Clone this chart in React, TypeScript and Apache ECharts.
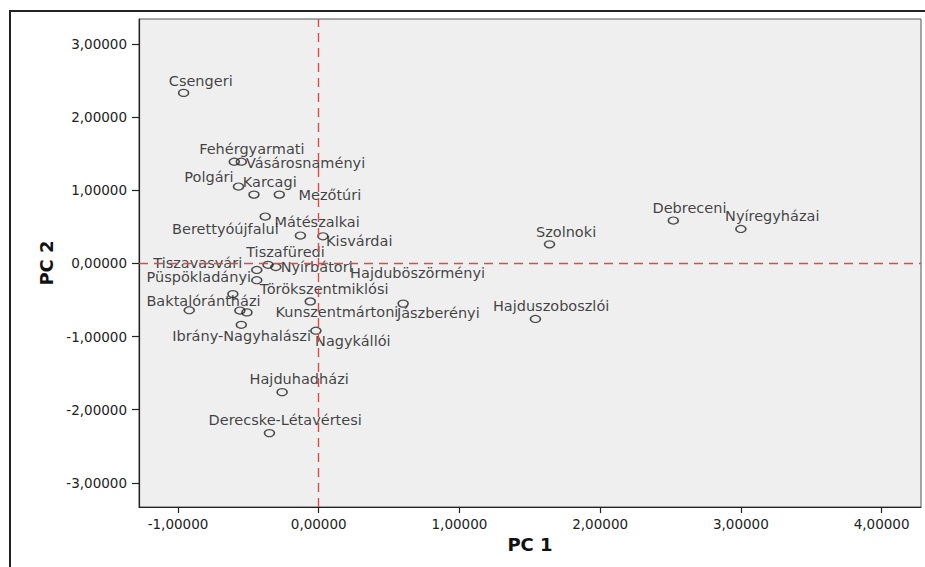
import React, { useEffect, useRef } from "react";
import * as echarts from "echarts";

// ---- data ----
const names = [
  "Csengeri", "Fehérgyarmati", "Vásárosnaményi", "Polgári", "Karcagi", "Mezőtúri",
  "Berettyóújfalui", "Mátészalkai", "Kisvárdai", "Tiszafüredi", "Nyírbátori",
  "Tiszavasvári", "Püspökladányi", "", "Baktalórántházi", "Törökszentmiklósi",
  "Kunszentmártoni", "Hajduböszörményi", "Ibrány-Nagyhalászi", "Nagykállói",
  "Jászberényi", "Hajduhadházi", "Derecske-Létavértesi", "Szolnoki", "Debreceni",
  "Nyíregyházai", "Hajduszoboszlói",
];
const pc1 = [
  -0.96, -0.60, -0.55, -0.57, -0.46, -0.28,
  -0.38, -0.13, 0.03, -0.36, -0.305,
  -0.44, -0.44, -0.61, -0.92, -0.56,
  -0.51, -0.06, -0.55, -0.02,
  0.60, -0.26, -0.35, 1.64, 2.52,
  3.00, 1.54,
];
const pc2 = [
  2.33, 1.39, 1.39, 1.05, 0.94, 0.94,
  0.64, 0.38, 0.37, -0.02, -0.05,
  -0.09, -0.23, -0.42, -0.64, -0.645,
  -0.67, -0.52, -0.84, -0.92,
  -0.55, -1.76, -2.32, 0.26, 0.585,
  0.47, -0.76,
];
const xTicks = [-1, 0, 1, 2, 3, 4];
const yTicks = [-3, -2, -1, 0, 1, 2, 3];

// ---- label placement (styling): offset of label's left/middle from the point, px ----
const labelOffsets: Record<string, [number, number]> = {
  "Csengeri": [-14, -11.6],
  "Fehérgyarmati": [-34.3, -12.4],
  "Vásárosnaményi": [5.6, 1.6],
  "Polgári": [-53.3, -9.4],
  "Karcagi": [-10.3, -12.3],
  "Mezőtúri": [20, 1],
  "Berettyóújfalui": [-92.3, 12.6],
  "Mátészalkai": [-25, -12.7],
  "Kisvárdai": [4, 5],
  "Tiszafüredi": [-21, -12.7],
  "Nyírbátori": [5.7, 1],
  "Tiszavasvári": [-102.7, -6.7],
  "Püspökladányi": [-109.4, -2.7],
  "Baktalórántházi": [-42, -9],
  "Törökszentmiklósi": [20.7, -20.7],
  "Kunszentmártoni": [29.4, 0],
  "Hajduböszörményi": [40.7, -27.7],
  "Ibrány-Nagyhalászi": [-68.3, 11.7],
  "Nagykállói": [0, 11],
  "Jászberényi": [-5.4, 10],
  "Hajduhadházi": [-31.7, -13],
  "Derecske-Létavértesi": [-60, -13],
  "Szolnoki": [-12.7, -12],
  "Debreceni": [-20, -12.4],
  "Nyíregyházai": [-15, -12.6],
  "Hajduszoboszlói": [-41.7, -12.6],
};

const FONT = "DejaVu Sans";
const SYM_W = 10;
const SYM_H = 7;
const fmt = (v: number) => v.toFixed(5).replace(".", ",");

export default function App() {
  const ref = useRef<HTMLDivElement>(null);
  useEffect(() => {
    if (!ref.current) return;
    const chart = echarts.init(ref.current, undefined, { renderer: "svg" });
    const data = names.map((n, i) => {
      const off = labelOffsets[n] || [6, 0];
      return {
        name: n,
        value: [pc1[i], pc2[i]],
        label: {
          show: n !== "",
          position: [SYM_W / 2 + off[0], SYM_H / 2 + off[1]],
          align: "left",
          verticalAlign: "middle",
        },
      };
    });
    chart.setOption({
      animation: false,
      backgroundColor: "#ffffff",
      grid: {
        left: 139,
        right: 4,
        top: 19,
        bottom: 60,
        show: true,
        backgroundColor: "#efefef",
        borderColor: "#555",
        borderWidth: 1,
        containLabel: false,
        outerBoundsMode: "none",
      },
      graphic: [
        {
          type: "rect",
          shape: { x: 10, y: 11, width: 940, height: 600 },
          style: { fill: "none", stroke: "#222", lineWidth: 2 },
          silent: true,
          z: -10,
        },
      ],
      xAxis: {
        type: "value",
        min: -1.277,
        max: 4.28,
        name: "PC 1",
        nameLocation: "middle",
        nameGap: 28,
        nameTextStyle: { fontFamily: FONT, fontSize: 18, fontWeight: "bold", color: "#111" },
        axisLine: { show: true, onZero: false, lineStyle: { color: "#222", width: 1.2 } },
        axisTick: { show: true, customValues: xTicks, length: 6, lineStyle: { color: "#222", width: 1.2 } },
        axisLabel: {
          customValues: xTicks,
          formatter: (v: number) => fmt(v),
          fontFamily: FONT,
          fontSize: 13.5,
          color: "#222",
          margin: 10,
        },
        splitLine: { show: false },
      },
      yAxis: {
        type: "value",
        min: -3.33,
        max: 3.34,
        name: "PC 2",
        nameLocation: "middle",
        nameRotate: 90,
        nameGap: 82,
        nameTextStyle: { fontFamily: FONT, fontSize: 18, fontWeight: "bold", color: "#111" },
        axisLine: { show: true, onZero: false, lineStyle: { color: "#222", width: 1.2 } },
        axisTick: { show: true, customValues: yTicks, length: 7, lineStyle: { color: "#222", width: 1.2 } },
        axisLabel: {
          customValues: yTicks,
          formatter: (v: number) => fmt(v),
          fontFamily: FONT,
          fontSize: 13.5,
          color: "#222",
          margin: 12,
        },
        splitLine: { show: false },
      },
      series: [
        {
          type: "scatter",
          symbol: "circle",
          symbolSize: [SYM_W, SYM_H],
          itemStyle: { color: "rgba(0,0,0,0)", borderColor: "#222", borderWidth: 1.4 },
          label: {
            show: true,
            formatter: "{b}",
            fontFamily: FONT,
            fontSize: 14.5,
            color: "#111",
          },
          labelLayout: { hideOverlap: false },
          data,
          markLine: {
            silent: true,
            symbol: ["none", "none"],
            label: { show: false },
            lineStyle: { color: "#dd4a4a", type: [9, 6], width: 1.4 },
            data: [{ xAxis: 0 }, { yAxis: 0 }],
          },
        },
      ],
    });
    return () => chart.dispose();
  }, []);
  return (
    <div
      ref={ref}
      style={{ position: "absolute", left: 0, top: 0, width: 925, height: 567 }}
    />
  );
}
